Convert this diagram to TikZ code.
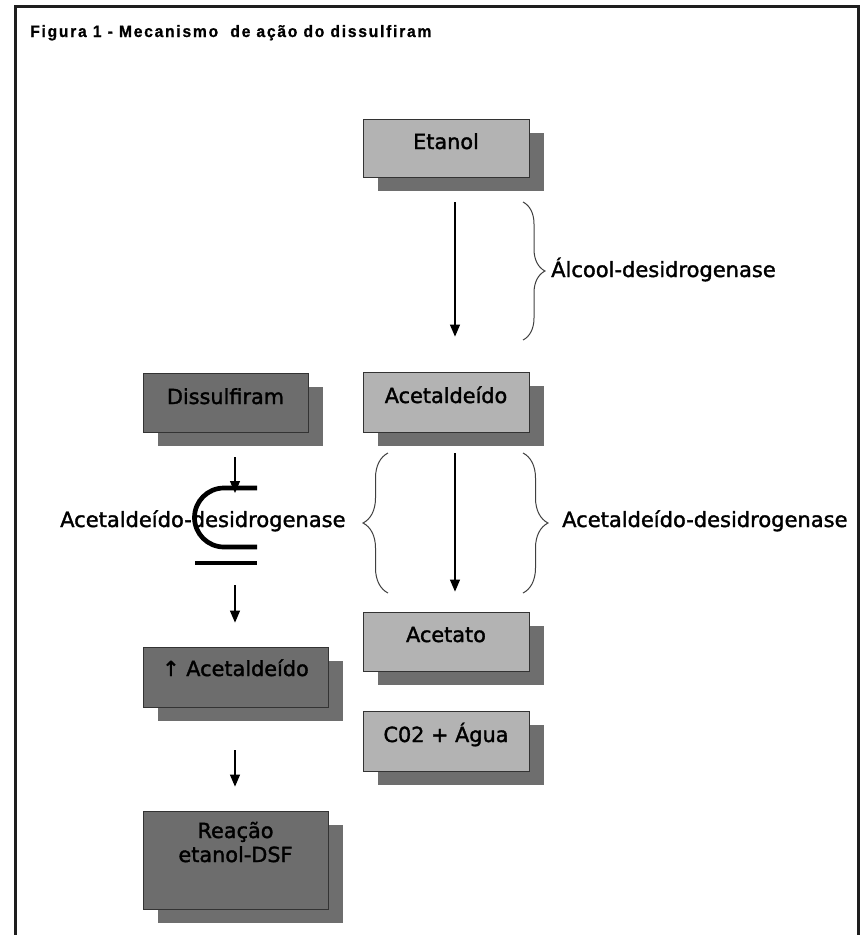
\documentclass[tikz,border=0pt]{standalone}
\usepackage{fontspec}
\setmainfont{DejaVu Sans}
\newfontfamily\caixafont[FakeBold=1.6]{DejaVu Sans}
\newfontfamily\titulofont[FakeStretch=0.95,LetterSpace=10.5,FakeBold=0.8]{Liberation Sans}
\usetikzlibrary{arrows.meta,shadows,decorations.pathreplacing}
\definecolor{cinzaclaro}{HTML}{B3B3B3}
\definecolor{cinzaescuro}{HTML}{6D6D6D}
\definecolor{sombra}{HTML}{6E6E6E}
\definecolor{moldura}{HTML}{1E1E1E}
\tikzset{
  caixa/.style={draw=black!80, line width=0.8pt, inner sep=0pt, minimum width=166pt,
    text height=30pt, text depth=28pt, font=\caixafont\fontsize{20.8}{24}\selectfont,
    drop shadow={shadow xshift=15pt, shadow yshift=-14pt, fill=sombra, opacity=1}},
  clara/.style={caixa, fill=cinzaclaro},
  escura/.style={caixa, fill=cinzaescuro},
  seta/.style={-{Triangle[width=10pt,length=12pt]}, line width=1.1pt},
  chave/.style={decorate, decoration={brace, amplitude=#1}, draw=black!75, line width=1pt},
  rotulo/.style={font=\caixafont\fontsize{21}{24}\selectfont, inner sep=0pt, anchor=base west}
}
\begin{document}
\begin{tikzpicture}[x=1pt,y=-1pt]
\useasboundingbox (0,0) rectangle (862,935);
\draw[moldura, line width=3.5pt] (15.5,935) -- (15.5,6.5) -- (858.5,6.5) -- (858.5,935);
\node[font={\titulofont\fontsize{16.5}{19}\selectfont\bfseries}, anchor=base west, inner sep=0pt] (titulo) at (30,37) {Figura 1 - Mecanismo\ \ de ação do dissulfiram};

\node[clara] (etanol) at (446,148) {Etanol};
\node[clara, text height=31pt, text depth=29pt] (acetald) at (446,402) {Acetaldeído};
\node[clara, text height=30pt, text depth=29pt] (acetato) at (446,641.5) {Acetato};
\node[clara, text height=31pt, text depth=29pt] (agua) at (446,741) {C02 + Água};
\node[escura, minimum width=165pt, text height=31pt, text depth=28pt] (dissulf) at (225.5,402.5) {Dissulfiram};
\node[escura, minimum width=185pt, text height=29pt, text depth=31pt] (acetup) at (235.5,677) {↑ Acetaldeído};
\node[escura, minimum width=185pt, align=center, text height=51pt, text depth=47pt] (reacao) at (235.5,860) {Reação\\etanol-DSF};

\coordinate (inibe) at (235,493);
\coordinate (saida) at (235,585);
\draw[seta] ([xshift=9pt,yshift=-25pt]etanol.south) -- ([xshift=9pt,yshift=35pt]acetald.north);
\draw[seta] ([xshift=9pt,yshift=-21pt]acetald.south) -- ([xshift=9pt,yshift=20pt]acetato.north);
\draw[seta] ([xshift=9.5pt,yshift=-25pt]dissulf.south) -- (inibe);
\draw[seta] (saida) -- ([xshift=-0.5pt,yshift=24pt]acetup.north);
\draw[seta] ([xshift=-0.5pt,yshift=-43pt]acetup.south) -- ([xshift=-0.5pt,yshift=24pt]reacao.north);

\draw[chave=22pt] (523,202) -- (523,340);
\draw[chave=25pt] (523,453) -- (523,593);
\draw[chave=25pt] (388,593) -- (388,453);
\node[rotulo] (adh) at (551,277) {Álcool-desidrogenase};
\node[rotulo] (aldh) at (562,527) {Acetaldeído-desidrogenase};
\node[rotulo] (aldhinib) at (60,527) {Acetaldeído-desidrogenase};

\draw[line width=4.7pt] (257,488) -- (224,488) arc[start angle=-90, end angle=-270, radius=29.5] -- (257,547);
\draw[line width=4.7pt] (195,563) -- (257,563);
\end{tikzpicture}
\end{document}
